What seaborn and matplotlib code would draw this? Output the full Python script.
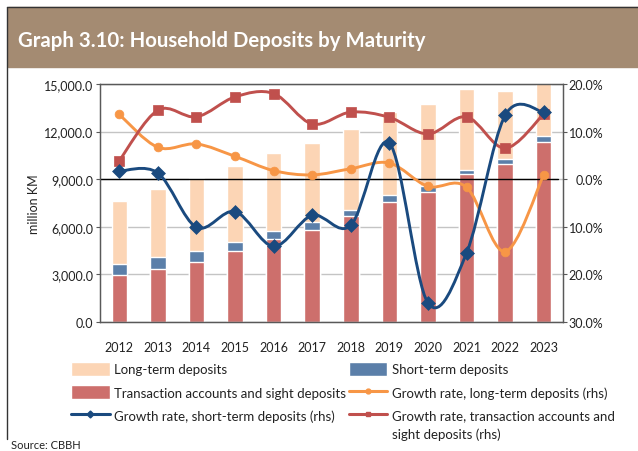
import numpy as np
import pandas as pd
import seaborn as sns
import matplotlib.pyplot as plt
from matplotlib.path import Path
from matplotlib.patches import PathPatch, Rectangle, Patch
from matplotlib.lines import Line2D
from matplotlib.ticker import FuncFormatter, MultipleLocator

# stocks, million KM
years = [str(y) for y in range(2012, 2024)]
transaction = [2940, 3360, 3780, 4450, 5240, 5810, 6710, 7550, 8220, 9310, 9940, 11330]
short_term = [730, 750, 690, 610, 505, 505, 360, 460, 380, 295, 335, 375]
long_term = [3970, 4260, 4590, 4800, 4910, 4970, 5080, 5250, 5160, 5080, 4280, 4320]

# growth rates, % (rhs)
gr_long = [13.6, 6.7, 7.4, 4.8, 1.8, 0.9, 2.2, 3.4, -1.5, -1.7, -15.2, 0.9]
gr_short = [1.7, 1.3, -10.1, -6.8, -14.1, -7.6, -9.7, 7.6, -26.0, -15.5, 13.4, 14.1]
gr_trans = [3.9, 14.5, 13.1, 17.3, 18.0, 11.6, 14.1, 13.0, 9.5, 13.1, 6.5, 13.7]

PEACH = "#FCD5B5"
BLUE_BAR = "#5B7FA9"
RED_BAR = "#CD6F6C"
RED_LINE = "#C0504D"
ORANGE = "#F79646"
NAVY = "#1A4A7F"
HEADER = "#A48B72"
AXCOL = "#595959"

sns.set_theme(style="white")
plt.rcParams["font.family"] = ["Lato", "DejaVu Sans"]


def smooth_path(xs, ys):
    # excel-style smoothed line: catmull-rom as cubic bezier in data coords
    pts = np.column_stack([xs, ys]).astype(float)
    ext = np.vstack([pts[0], pts, pts[-1]])
    verts = [pts[0]]
    codes = [Path.MOVETO]
    for i in range(len(pts) - 1):
        p0, p1, p2, p3 = ext[i], ext[i + 1], ext[i + 2], ext[i + 3]
        verts += [p1 + (p2 - p0) / 6, p2 - (p3 - p1) / 6, p2]
        codes += [Path.CURVE4] * 3
    return Path(verts, codes)


df = pd.DataFrame({"year": years, "trans": transaction,
                   "short": short_term, "long": long_term})
df["short_top"] = df["trans"] + df["short"]
df["total"] = df["short_top"] + df["long"]

fig = plt.figure(figsize=(6.38, 4.52), dpi=100)

# header band and frame
fig.patches.append(Rectangle((8 / 638, 1 - 68 / 452), 1, 60 / 452,
                             transform=fig.transFigure, color=HEADER, zorder=0))
fig.add_artist(Line2D([7 / 638, 1], [1 - 8 / 452] * 2, transform=fig.transFigure,
                      color="#333333", lw=1))
fig.add_artist(Line2D([7 / 638] * 2, [1 - 8 / 452, 1 - 440 / 452],
                      transform=fig.transFigure, color="#333333", lw=1))
fig.text(18 / 638, 1 - 41 / 452, "Graph 3.10: Household Deposits by Maturity",
         color="white", fontsize=14.7, fontweight="bold", va="center", ha="left")

ax = fig.add_axes([100 / 638, 1 - 323 / 452, 463 / 638, 238 / 452])
sns.barplot(data=df, x="year", y="total", color=PEACH, width=0.4,
            saturation=1, ax=ax, zorder=2)
sns.barplot(data=df, x="year", y="short_top", color=BLUE_BAR, width=0.4,
            saturation=1, ax=ax, zorder=2)
sns.barplot(data=df, x="year", y="trans", color=RED_BAR, width=0.4,
            saturation=1, ax=ax, zorder=2)

ax.set_xlim(-0.5, 11.5)
ax.set_ylim(0, 15000)
ax.yaxis.set_major_locator(MultipleLocator(3000))
ax.yaxis.set_major_formatter(FuncFormatter(lambda v, p: f"{v:,.1f}"))
ax.grid(axis="y", color="#C4C4C4", lw=1)
ax.set_axisbelow(True)
ax.set_xlabel("")
ax.set_ylabel("million KM", fontsize=9, color="#222222", labelpad=3)
ax.tick_params(axis="x", length=0, labelsize=9, colors="#222222", pad=14)
ax.tick_params(axis="y", length=3, width=0.8, color=AXCOL, labelsize=9,
               labelcolor="#222222", pad=2, direction="out", left=True)
for s in ax.spines.values():
    s.set_color(AXCOL)
    s.set_linewidth(0.9)

ax2 = ax.twinx()
ax2.set_ylim(-30, 20)
ax2.yaxis.set_major_locator(MultipleLocator(10))
ax2.yaxis.set_major_formatter(FuncFormatter(lambda v, p: f"{abs(v):.1f}%"))
ax2.tick_params(axis="y", length=3, width=0.8, color=AXCOL, labelsize=9,
                labelcolor="#222222", pad=26, direction="out", right=True)
for lab in ax2.get_yticklabels():
    lab.set_horizontalalignment("right")
ax2.grid(False)
for s in ax2.spines.values():
    s.set_color(AXCOL)
    s.set_linewidth(0.9)
ax2.axhline(0, xmin=0, xmax=0.99, color="black", lw=1, zorder=1)

idx = np.arange(len(years))
series = [(gr_long, ORANGE, "o", 40), (gr_trans, RED_LINE, "s", 42),
          (gr_short, NAVY, "D", 50)]
for vals, col, mk, sz in series:
    ax2.add_patch(PathPatch(smooth_path(idx, vals), facecolor="none",
                            edgecolor=col, lw=2.1, zorder=3))
    sns.scatterplot(x=idx, y=vals, marker=mk, s=sz, color=col, edgecolor=col,
                    linewidth=0.5, ax=ax2, zorder=4, legend=False)
ax2.set_xlim(-0.5, 11.5)

handles = [
    Patch(facecolor=PEACH, label="Long-term deposits"),
    Patch(facecolor=RED_BAR, label="Transaction accounts and sight deposits"),
    Line2D([], [], color=NAVY, lw=2.2, marker="D", markersize=3.5,
           label="Growth rate, short-term deposits (rhs)"),
    Patch(facecolor=BLUE_BAR, label="Short-term deposits"),
    Line2D([], [], color=ORANGE, lw=2.2, marker="o", markersize=3.5,
           label="Growth rate, long-term deposits (rhs)"),
    Line2D([], [], color=RED_LINE, lw=2.2, marker="s", markersize=3.5,
           label="Growth rate, transaction accounts and"),
]
leg = fig.legend(handles=handles, ncol=2, loc="upper left",
                 bbox_to_anchor=(66 / 638, 1 - 358 / 452), frameon=False,
                 fontsize=9.5, handlelength=2.9, handleheight=1.2,
                 handletextpad=0.35, columnspacing=0.2, labelspacing=0.72,
                 borderaxespad=0, labelcolor="#222222")

# second line of the last legend label, wrapped like the original
fig.canvas.draw()
bb = leg.get_texts()[-1].get_window_extent().transformed(fig.transFigure.inverted())
fig.text(bb.x0, bb.y0 - 18 / 452, "sight deposits (rhs)", fontsize=9.5,
         color="#222222", ha="left", va="bottom")

fig.text(11 / 638, 1 - 446 / 452, "Source: CBBH", fontsize=8,
         color="#222222", va="center")

fig.savefig("out.png", dpi=100)
